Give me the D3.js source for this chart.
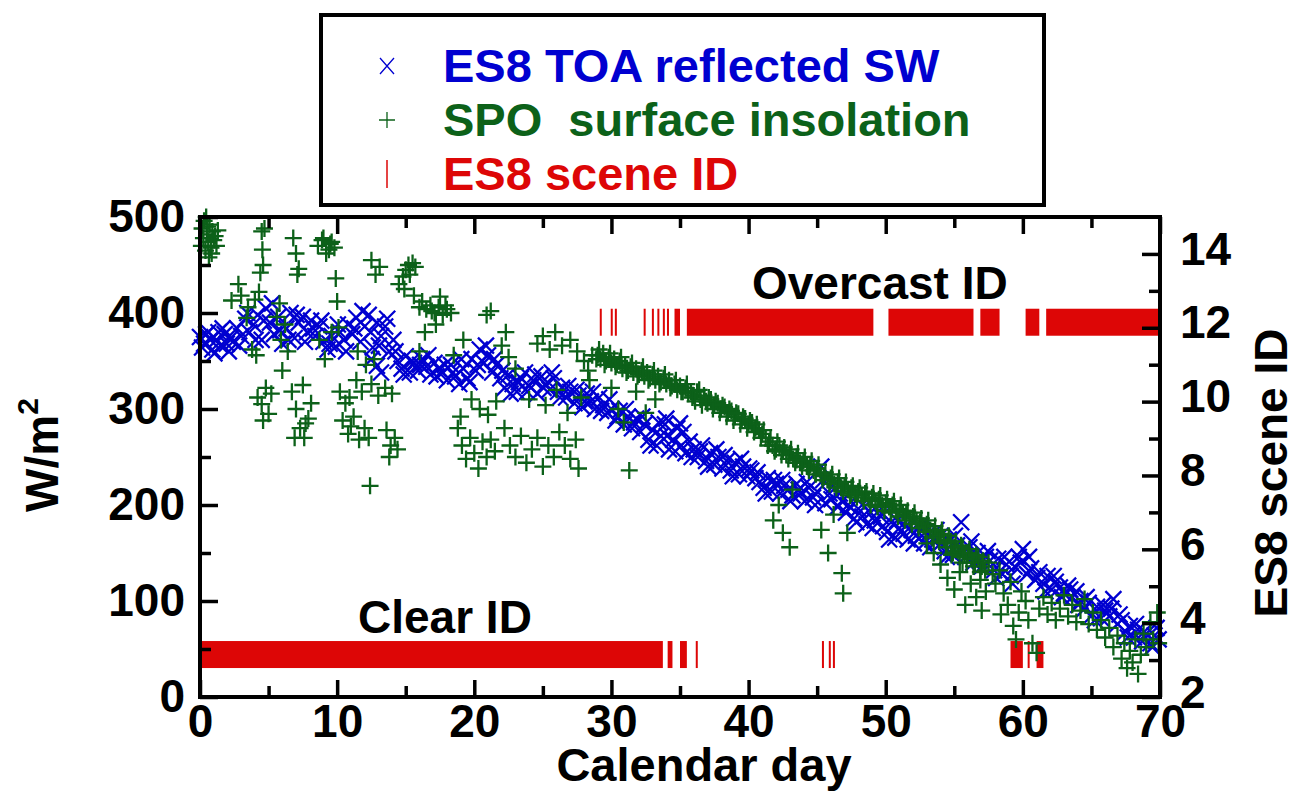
<!DOCTYPE html>
<html>
<head>
<meta charset="utf-8">
<script src="https://cdn.jsdelivr.net/npm/d3@7"></script>
<style>
  html, body { margin: 0; padding: 0; background: #fff; }
  svg { display: block; }
  text { font-family: "Liberation Sans", Arial, Helvetica, sans-serif; font-weight: bold; }
</style>
</head>
<body>
<svg id="chart" width="1297" height="791"></svg>
<script>
// ---------------- DATA ----------------
const seriesNames = ["ES8 TOA reflected SW", "SPO  surface insolation", "ES8 scene ID"];
const xTicks = [0, 10, 20, 30, 40, 50, 60, 70];
const yTicks = [0, 100, 200, 300, 400, 500];
const y2Ticks = [2, 4, 6, 8, 10, 12, 14];
const sceneLabels = ["Clear ID", "Overcast ID"];
const sceneClearId = 3.15;
const sceneOvercastId = 12.15;

// ES8 TOA reflected SW  [calendar day, W/m2]
const toaSW = [
[0.0,375],[0.3,368],[0.6,380],[0.9,362],[1.2,372],[1.5,366],[1.8,378],[2.1,360],[2.4,370],
[0.15,364],[0.75,372],[1.35,380],[1.95,368],
[2.7,384],[3.0,376],[3.3,394],[3.6,380],[3.9,388],[4.2,398],
[4.5,372],[4.8,405],[5.1,390],[5.4,378],[5.7,396],[6.0,368],[6.3,384],[6.6,400],[6.9,374],[7.2,390],
[7.5,396],[7.8,380],[8.1,392],[8.4,376],[8.7,386],
[9.0,370],[9.3,362],[9.6,376],[9.9,365],[10.2,380],[10.5,372],
[10.8,388],[11.1,378],[11.4,395],[11.7,370],[12.0,386],[12.3,398],[12.6,364],[12.9,390],[13.2,376],[13.5,386],[13.8,360],[14.1,372],
[12.9,345],[13.2,338],[12.5,352],
[14.4,350],[14.7,342],[15.0,355],[15.3,338],[15.6,348],[15.9,340],[16.2,352],[16.5,344],[16.8,336],[17.1,348],[17.4,342],
[17.7,338],[18.0,330],[18.3,346],[18.6,334],[18.9,326],[19.2,342],[19.5,332],
[19.8,352],[20.1,340],[20.4,362],[20.7,348],[21.0,356],[21.3,338],[21.6,346],
[21.9,332],[22.2,322],[22.5,336],[22.8,326],[23.1,318],[23.4,332],[23.7,338],[24.0,324],[24.3,330],[24.6,316],[24.9,334],[25.2,326],[25.5,320],[25.8,332],[26.1,318],
[26.4,322],[26.7,312],[27.0,318],[27.3,306],[27.6,314],[27.9,302],[28.2,316],[28.5,308],[28.8,300],[29.1,312],
[29.4,304],[29.7,296],[30.0,300],[30.3,288],[30.6,298],[30.9,284],[31.2,292],[31.5,280],[31.8,290],
[32.1,276],[32.4,284],[32.7,268],[33.0,278],[33.3,262],[33.6,272],[33.9,284],[34.2,258],[34.5,268],[34.8,280],[35.1,262],[35.4,254],[35.7,266],
[34.0,290],[35.0,285],
[36.0,258],[36.3,250],[36.6,262],[36.9,246],[37.2,254],[37.5,242],[37.8,250],[38.1,238],[38.4,246],[38.7,236],[39.0,244],[39.3,232],[39.6,240],[39.9,230],[40.2,236],[40.5,228],
[40.8,224],[41.1,218],[41.4,228],[41.7,214],[42.0,222],[42.3,212],[42.6,220],[42.9,216],[43.2,210],[43.5,222],
[43.8,212],[44.1,204],[44.4,218],[44.7,208],[45.0,214],[45.3,240],[45.6,202],[45.9,212],[46.2,220],[46.5,198],
[46.8,204],[47.1,192],[47.4,198],[47.7,186],[48.0,196],[48.3,188],[48.6,180],[48.9,192],[49.2,184],[49.5,194],
[49.8,178],[50.1,172],[50.4,182],[50.7,166],[51.0,176],[51.3,170],[51.6,164],[51.9,174],[52.2,168],[52.5,178],[52.8,160],[53.1,170],[53.4,164],[53.7,174],
[54.0,160],[54.3,152],[54.6,164],[54.9,148],[55.2,158],[55.5,182],[55.8,146],[56.1,156],[56.4,140],[56.7,150],[57.0,136],[57.3,146],
[57.6,142],[57.9,132],[58.2,144],[58.5,128],[58.8,138],[59.1,126],[59.4,136],[59.7,146],[60.0,154],[60.3,128],
[60.6,134],[60.9,122],[61.2,130],[61.5,118],[61.8,126],[62.1,112],[62.4,120],[62.7,114],[63.0,108],[63.3,116],[63.6,104],[63.9,110],
[64.2,100],[64.5,92],[64.8,98],[65.1,86],[65.4,94],[65.7,82],[66.0,90],[66.3,84],[66.6,102],[66.9,76],
[67.2,80],[67.5,68],[67.8,74],[68.1,62],[68.4,70],[68.7,58],[69.0,66],[69.3,56],[69.6,64],[69.9,60],
[0.45,378],[1.05,358],[1.65,384],[2.25,374],[2.85,366],[3.45,400],[4.05,372],[4.65,392],[5.25,410],[5.85,382],[6.45,372],[7.05,398],[7.65,370],[8.25,384],[8.85,392],[9.45,368],[10.05,388],[10.65,360],[11.25,384],[11.85,402],[12.45,380],[13.05,366],[13.65,394],[14.25,360],[14.85,336],[15.45,350],[16.05,346],[16.65,356],[17.25,334],[17.85,346],[18.45,338],[19.05,352],[19.65,328],[20.25,346],[20.85,366],[21.45,352],[22.05,340],[22.65,316],[23.25,328],[23.85,318],[24.45,336],[25.05,322],[25.65,338],[26.25,312],[26.85,324],[27.45,320],[28.05,308],[28.65,318],[29.25,298],[29.85,310],[30.45,292],[31.05,300],[31.65,286],[32.25,292],[32.85,262],[33.45,286],[34.05,272],[34.65,256],[35.25,276],[35.85,250],[36.45,256],[37.05,240],[37.65,258],[38.25,252],[38.85,230],[39.45,248],[40.05,238],[40.65,234],[41.25,212],[41.85,226],[42.45,226],[43.05,204],[43.65,216],[44.25,224],[44.85,200],[45.45,226],[46.05,206],[46.65,212],[47.25,200],[47.85,182],[48.45,198],[49.05,176],[49.65,188],[50.25,164],[50.85,184],[51.45,178],[52.05,160],[52.65,168],[53.25,156],[53.85,166],[54.45,146],[55.05,168],[55.65,152],[56.25,162],[56.85,142],[57.45,152],[58.05,124],[58.65,146],[59.25,118],[59.85,140],[60.45,146],[61.05,124],[61.65,110],[62.25,126],[62.85,104],[63.45,112],[64.05,96],[64.65,104],[65.25,80],[65.85,96],[66.45,92],[67.05,86],[67.65,62],[68.25,76],[68.85,68],[69.45,52],[69.75,72]
];

// SPO surface insolation  [calendar day, W/m2]
const spoIns = [
[0.1,470],[0.15,488],[0.25,478],[0.3,496],[0.4,465],[0.45,500],[0.5,482],[0.6,474],[0.65,458],[0.7,492],[0.8,468],[0.9,485],[1.0,476],[1.1,480],[1.2,470],[1.3,486],[0.55,490],[0.85,462],
[2.3,413],[3.0,418],[3.5,406],[4.0,414],[4.3,422],[3.8,362],[4.1,356],[4.4,442],[4.5,485],[4.55,466],[4.6,450],[4.7,488],
[4.2,312],[4.5,305],[4.8,322],[5.0,295],[5.2,316],[4.6,288],[3.4,395],[2.8,430],
[5.6,396],[5.9,372],[6.2,388],[6.4,360],[5.8,410],[6.0,340],
[6.7,318],[7.0,300],[7.3,280],[7.6,270],[7.9,290],[8.1,306],[7.5,325],[6.9,270],[7.7,285],
[6.8,478],[7.0,462],[7.2,446],[7.1,440],
[8.6,470],[8.9,476],[9.2,462],[9.5,472],[9.8,468],[9.0,478],[9.4,466],[9.6,474],
[9.9,436],[10.0,412],[10.1,385],[8.7,372],[9.1,352],[9.6,380],
[10.2,318],[10.6,306],[10.9,312],
[10.4,288],[10.8,274],[11.2,292],[11.6,268],[12.0,280],[12.3,270],[11.0,282],
[12.4,220],
[11.4,330],[11.8,318],[12.5,326],[13.0,314],[13.5,322],[14.0,316],
[13.6,278],[13.9,262],[14.2,270],[14.4,258],[13.8,250],
[12.5,455],[12.8,440],[13.1,448],
[11.5,360],[12.1,346],[12.7,352],
[14.5,430],[14.8,438],[15.0,445],[15.2,450],[15.5,452],[15.7,448],[14.9,425],[15.3,440],
[15.6,418],[16.0,406],[16.2,412],
[16.5,404],[16.8,408],[17.1,400],[17.4,406],[17.7,398],[18.0,404],[18.3,400],[16.9,402],[17.9,408],
[17.5,417],[16.4,380],
[20.9,398],[21.2,402],
[18.8,280],[19.1,262],[19.4,248],[19.7,270],[20.0,254],[20.3,238],[20.6,266],[20.9,250],[19.0,292],
[21.2,268],[21.5,256],
[19.8,310],[20.4,300],[21.0,294],[21.6,308],
[18.5,356],[19.2,372],[17.2,388],[16.0,360],
[22.0,366],[22.5,354],[23.0,342],[22.3,380],
[22.2,280],[22.6,262],[23.0,250],[23.4,272],[23.8,244],[24.2,258],[24.6,270],[25.0,240],[25.4,262],[25.8,250],
[26.2,276],[26.6,262],[27.0,248],[27.4,268],[27.6,238],
[24.0,310],[25.2,304],[26.0,320],[26.8,296],[27.8,312],
[24.6,368],[25.0,376],[25.5,362],[25.9,380],[26.4,366],[27.0,372],[27.5,360],
[28.0,350],[28.3,340],[28.6,356],[28.9,352],[28.4,330],
[29.0,356],[29.2,352],[29.4,358],[29.6,350],[29.8,354],[30.0,348],[30.2,352],[30.4,346],[30.6,350],[30.8,342],[31.0,346],[31.2,340],[31.4,344],[31.6,338],[31.8,342],[32.0,336],[32.2,340],[32.4,334],[32.6,338],[32.8,332],[33.0,336],[33.2,330],[33.4,334],[33.6,328],[33.8,332],[34.0,326],[34.2,330],[34.4,324],[34.6,326],[34.8,320],[35.0,324],[35.2,318],[35.4,322],[35.6,316],[35.8,318],
[31.3,236],[30.5,300],[31.8,318],[32.5,296],[33.2,310],[30.0,322],[30.9,286],
[36.0,314],[36.25,318],[36.5,310],[36.75,314],[37.0,306],[37.25,310],[37.5,304],[37.75,306],[38.0,300],[38.25,302],[38.5,296],[38.75,298],[39.0,292],[39.25,295],[39.5,288],[39.75,290],[40.0,284],[40.25,286],[40.5,280],[40.75,278],[41.0,274],[41.25,270],[41.5,266],[41.75,262],[42.0,258],[42.25,262],[42.5,256],[42.75,252],[43.0,254],[43.25,248],[43.5,250],[43.75,244],[44.0,246],[44.25,240],[44.5,242],[44.75,236],[45.0,238],[45.25,232],[45.5,230],[45.75,226],[46.0,228],[46.25,222],[46.5,224],[46.75,218],[47.0,220],[47.25,216],[47.5,218],[47.75,212],[48.0,214],[48.25,210],[48.5,212],[48.75,206],[49.0,208],[49.25,204],[49.5,206],[49.75,200],[50.0,202],[50.25,198],[50.5,200],[50.75,194],[51.0,196],[51.25,192],[51.5,190],[51.75,186],[52.0,188],[52.25,184],[52.5,182],[52.75,178],[53.0,180],[53.25,174],[53.5,172],[53.75,168],[54.0,170],[54.25,164],[54.5,160],[54.75,162],[55.0,156],[55.25,152],[55.5,158],[55.75,148],[56.0,150],[56.25,144],[56.5,140],[56.75,146],[57.0,136],[57.25,132],
[29.1,362],[29.5,346],[29.9,358],[30.3,344],[30.7,354],[31.1,338],[31.5,348],[31.9,334],[32.3,344],[32.7,330],[33.1,340],[33.5,326],[33.9,336],[34.3,322],[34.7,330],[35.1,318],[35.5,326],[35.9,312],[36.1,308],[36.4,320],[36.6,304],[36.9,308],[37.1,312],[37.4,300],[37.6,308],[37.9,296],[38.1,304],[38.4,292],[38.6,300],[38.9,288],[39.1,296],[39.4,284],[39.6,292],[39.9,280],[40.1,288],[40.4,276],[40.6,284],[40.9,270],[41.1,278],[41.4,262],[41.6,270],[41.9,256],[42.1,266],[42.4,252],[42.6,260],[42.9,248],[43.1,258],[43.4,244],[43.6,254],[43.9,240],[44.1,250],[44.4,236],[44.6,246],[44.9,232],[45.1,242],[45.4,226],[45.6,234],[45.9,222],[46.1,232],[46.4,218],[46.6,228],[46.9,214],[47.1,224],[47.4,210],[47.6,220],[47.9,208],[48.1,218],[48.4,204],[48.6,214],[48.9,200],[49.1,212],[49.4,198],[49.6,210],[49.9,194],[50.1,206],[50.4,192],[50.6,204],[50.9,188],[51.1,200],[51.4,184],[51.6,194],[51.9,180],[52.1,192],[52.4,176],[52.6,186],[52.9,172],[53.1,184],[53.4,166],[53.6,178],[53.9,162],[54.1,174],[54.4,156],[54.6,168],[54.9,150],[55.1,162],[55.4,146],[55.6,156],[55.9,140],[56.1,154],[56.4,136],[56.6,148],[56.9,130],[57.1,142],
[41.8,184],[42.5,171],[43.0,156],[43.2,216],[43.5,247],[42.2,200],
[45.3,174],[45.8,150],[46.8,129],[46.9,108],[47.2,171],[47.5,212],[46.2,190],
[53.5,150],[54.0,138],[54.5,124],[55.0,112],[55.4,130],[55.8,96],[56.2,118],[56.6,104],[57.0,90],[56.9,122],[55.6,140],[54.8,148],[57.3,110],[58.4,86],[53.0,160],
[57.5,140],[57.8,128],[58.0,118],[58.3,132],[58.6,108],[58.9,96],[59.1,120],[59.3,74],[59.5,60],[59.7,88],[59.9,110],[60.2,100],[60.4,80],[60.7,56],[61.0,46],[61.2,92],[61.5,104],[61.8,86],[62.1,98],[62.4,80],[62.7,92],[63.0,106],[63.3,84],[63.6,96],[63.9,78],[64.2,90],[64.5,102],[64.8,76],[65.1,88],[65.4,70],[65.7,80],[66.0,62],[66.3,72],[66.6,52],[66.9,64],[67.2,40],[67.4,56],[67.6,30],[67.8,48],[68.0,36],[68.2,60],[68.4,24],[68.6,44],[68.8,66],[69.0,52],[69.3,78],[69.5,60],[69.8,88],[69.9,56]
];

// ES8 scene ID runs  [start day, end day]
const clearRuns = [[0,33.75],[34.1,34.45],[35.0,35.5],[36.15,36.25],[45.35,45.45],[45.85,45.95],[46.15,46.25],[59.1,60.0],[60.35,60.45],[61.0,61.5]];
const overcastRuns = [[29.15,29.25],[29.95,30.05],[30.25,30.35],[32.35,32.45],[32.95,33.05],[33.35,33.45],[33.75,33.85],[34.05,34.15],[34.6,35.0],[35.5,49.1],[50.2,56.4],[56.9,58.3],[60.2,61.2],[61.7,70.0]];

// ---------------- DRAW ----------------
const L = 200, R = 1160, T = 217, B = 697;
const svg = d3.select("#chart");
const x = d3.scaleLinear().domain([0, 70]).range([L, R]);
const y = d3.scaleLinear().domain([0, 500]).range([B, T]);
const y2 = d3.scaleLinear().domain([2, 15]).range([B, T]);

const BLUE = "#0000d0", GREEN = "#0c6119", RED = "#dd0606";
const FS = 46;

// scene ID bars
const barH = 27;
svg.append("g").selectAll("rect").data(clearRuns).join("rect")
  .attr("x", d => x(d[0])).attr("width", d => Math.max(2, x(d[1]) - x(d[0])))
  .attr("y", y2(sceneClearId) - barH / 2).attr("height", barH).attr("fill", RED);
svg.append("g").selectAll("rect").data(overcastRuns).join("rect")
  .attr("x", d => x(d[0])).attr("width", d => Math.max(2, x(d[1]) - x(d[0])))
  .attr("y", y2(sceneOvercastId) - barH / 2).attr("height", barH).attr("fill", RED);

// markers
const xMark = "M-8,-8L8,8M-8,8L8,-8";
const plusMark = "M-8.5,0H8.5M0,-8.5V8.5";
svg.append("g").selectAll("path").data(toaSW).join("path")
  .attr("d", xMark).attr("transform", d => `translate(${x(d[0])},${y(d[1])})`)
  .attr("stroke", BLUE).attr("stroke-width", 2.3).attr("fill", "none");
svg.append("g").selectAll("path").data(spoIns).join("path")
  .attr("d", plusMark).attr("transform", d => `translate(${x(d[0])},${y(d[1])})`)
  .attr("stroke", GREEN).attr("stroke-width", 2.3).attr("fill", "none");

// axes
function styleAxis(g) {
  g.select(".domain").remove();
  g.selectAll("line").attr("stroke", "#000").attr("stroke-width", 3.5);
  g.selectAll("text").attr("font-size", FS).attr("fill", "#000")
    .attr("font-family", '"Liberation Sans", Arial, sans-serif').attr("font-weight", "bold");
}
svg.append("g").attr("transform", `translate(0,${B})`)
  .call(d3.axisBottom(x).tickValues(xTicks).tickSize(-17).tickPadding(7).tickFormat(d3.format("d")))
  .call(styleAxis);
svg.append("g").attr("transform", `translate(0,${B})`)
  .call(d3.axisBottom(x).tickValues(d3.range(5, 70, 10)).tickSize(-11).tickFormat(""))
  .call(styleAxis);
svg.append("g").attr("transform", `translate(0,${T})`)
  .call(d3.axisTop(x).tickValues(xTicks).tickSize(-17).tickFormat(""))
  .call(styleAxis);
svg.append("g").attr("transform", `translate(0,${T})`)
  .call(d3.axisTop(x).tickValues(d3.range(5, 70, 10)).tickSize(-11).tickFormat(""))
  .call(styleAxis);
svg.append("g").attr("transform", `translate(${L},0)`)
  .call(d3.axisLeft(y).tickValues(yTicks).tickSize(-18).tickPadding(15).tickFormat(d3.format("d")))
  .call(styleAxis);
svg.append("g").attr("transform", `translate(${L},0)`)
  .call(d3.axisLeft(y).tickValues(d3.range(50, 500, 100)).tickSize(-11).tickFormat(""))
  .call(styleAxis);
const rAx = svg.append("g").attr("transform", `translate(${R},0)`)
  .call(d3.axisRight(y2).tickValues(y2Ticks).tickSize(-18).tickPadding(20).tickFormat(d3.format("d")))
  .call(styleAxis);
rAx.selectAll("text").attr("dy", "0.22em");
svg.append("g").attr("transform", `translate(${R},0)`)
  .call(d3.axisRight(y2).tickValues(d3.range(3, 15, 2)).tickSize(-11).tickFormat(""))
  .call(styleAxis);

// frame
svg.append("rect").attr("x", L).attr("y", T).attr("width", R - L).attr("height", B - T)
  .attr("fill", "none").attr("stroke", "#000").attr("stroke-width", 4);

// annotations
svg.append("text").attr("x", 752).attr("y", 299).attr("font-size", FS).text(sceneLabels[1]);
svg.append("text").attr("x", 358).attr("y", 633).attr("font-size", FS).text(sceneLabels[0]);

// axis titles
svg.append("text").attr("x", 704).attr("y", 781).attr("text-anchor", "middle")
  .attr("font-size", 47).text("Calendar day");
const yl = svg.append("text").attr("transform", "translate(58,455) rotate(-90)")
  .attr("text-anchor", "middle").attr("font-size", FS);
yl.append("tspan").text("W/m");
yl.append("tspan").attr("font-size", 30).attr("dy", -20).text("2");
svg.append("text").attr("transform", "translate(1287,473) rotate(-90)")
  .attr("text-anchor", "middle").attr("font-size", FS).text("ES8 scene ID");

// legend
svg.append("rect").attr("x", 321).attr("y", 15).attr("width", 723).attr("height", 190)
  .attr("fill", "#fff").attr("stroke", "#000").attr("stroke-width", 4);
const legY = [66, 120, 174];
const legCol = [BLUE, GREEN, RED];
svg.append("path").attr("d", "M-7,-8L7,8M-7,8L7,-8").attr("transform", `translate(387,${legY[0]})`)
  .attr("stroke", BLUE).attr("stroke-width", 1.3).attr("fill", "none");
svg.append("path").attr("d", "M-8,0H8M0,-8V8").attr("transform", `translate(387,${legY[1]})`)
  .attr("stroke", GREEN).attr("stroke-width", 1.3).attr("fill", "none");
svg.append("path").attr("d", "M0,-14V14").attr("transform", `translate(387,${legY[2]})`)
  .attr("stroke", RED).attr("stroke-width", 1.5).attr("fill", "none");
seriesNames.forEach((n, i) => {
  svg.append("text").attr("x", 443).attr("y", legY[i] + 16).attr("font-size", 47)
    .attr("fill", legCol[i]).attr("xml:space", "preserve").style("white-space", "pre").text(n);
});
</script>
</body>
</html>
